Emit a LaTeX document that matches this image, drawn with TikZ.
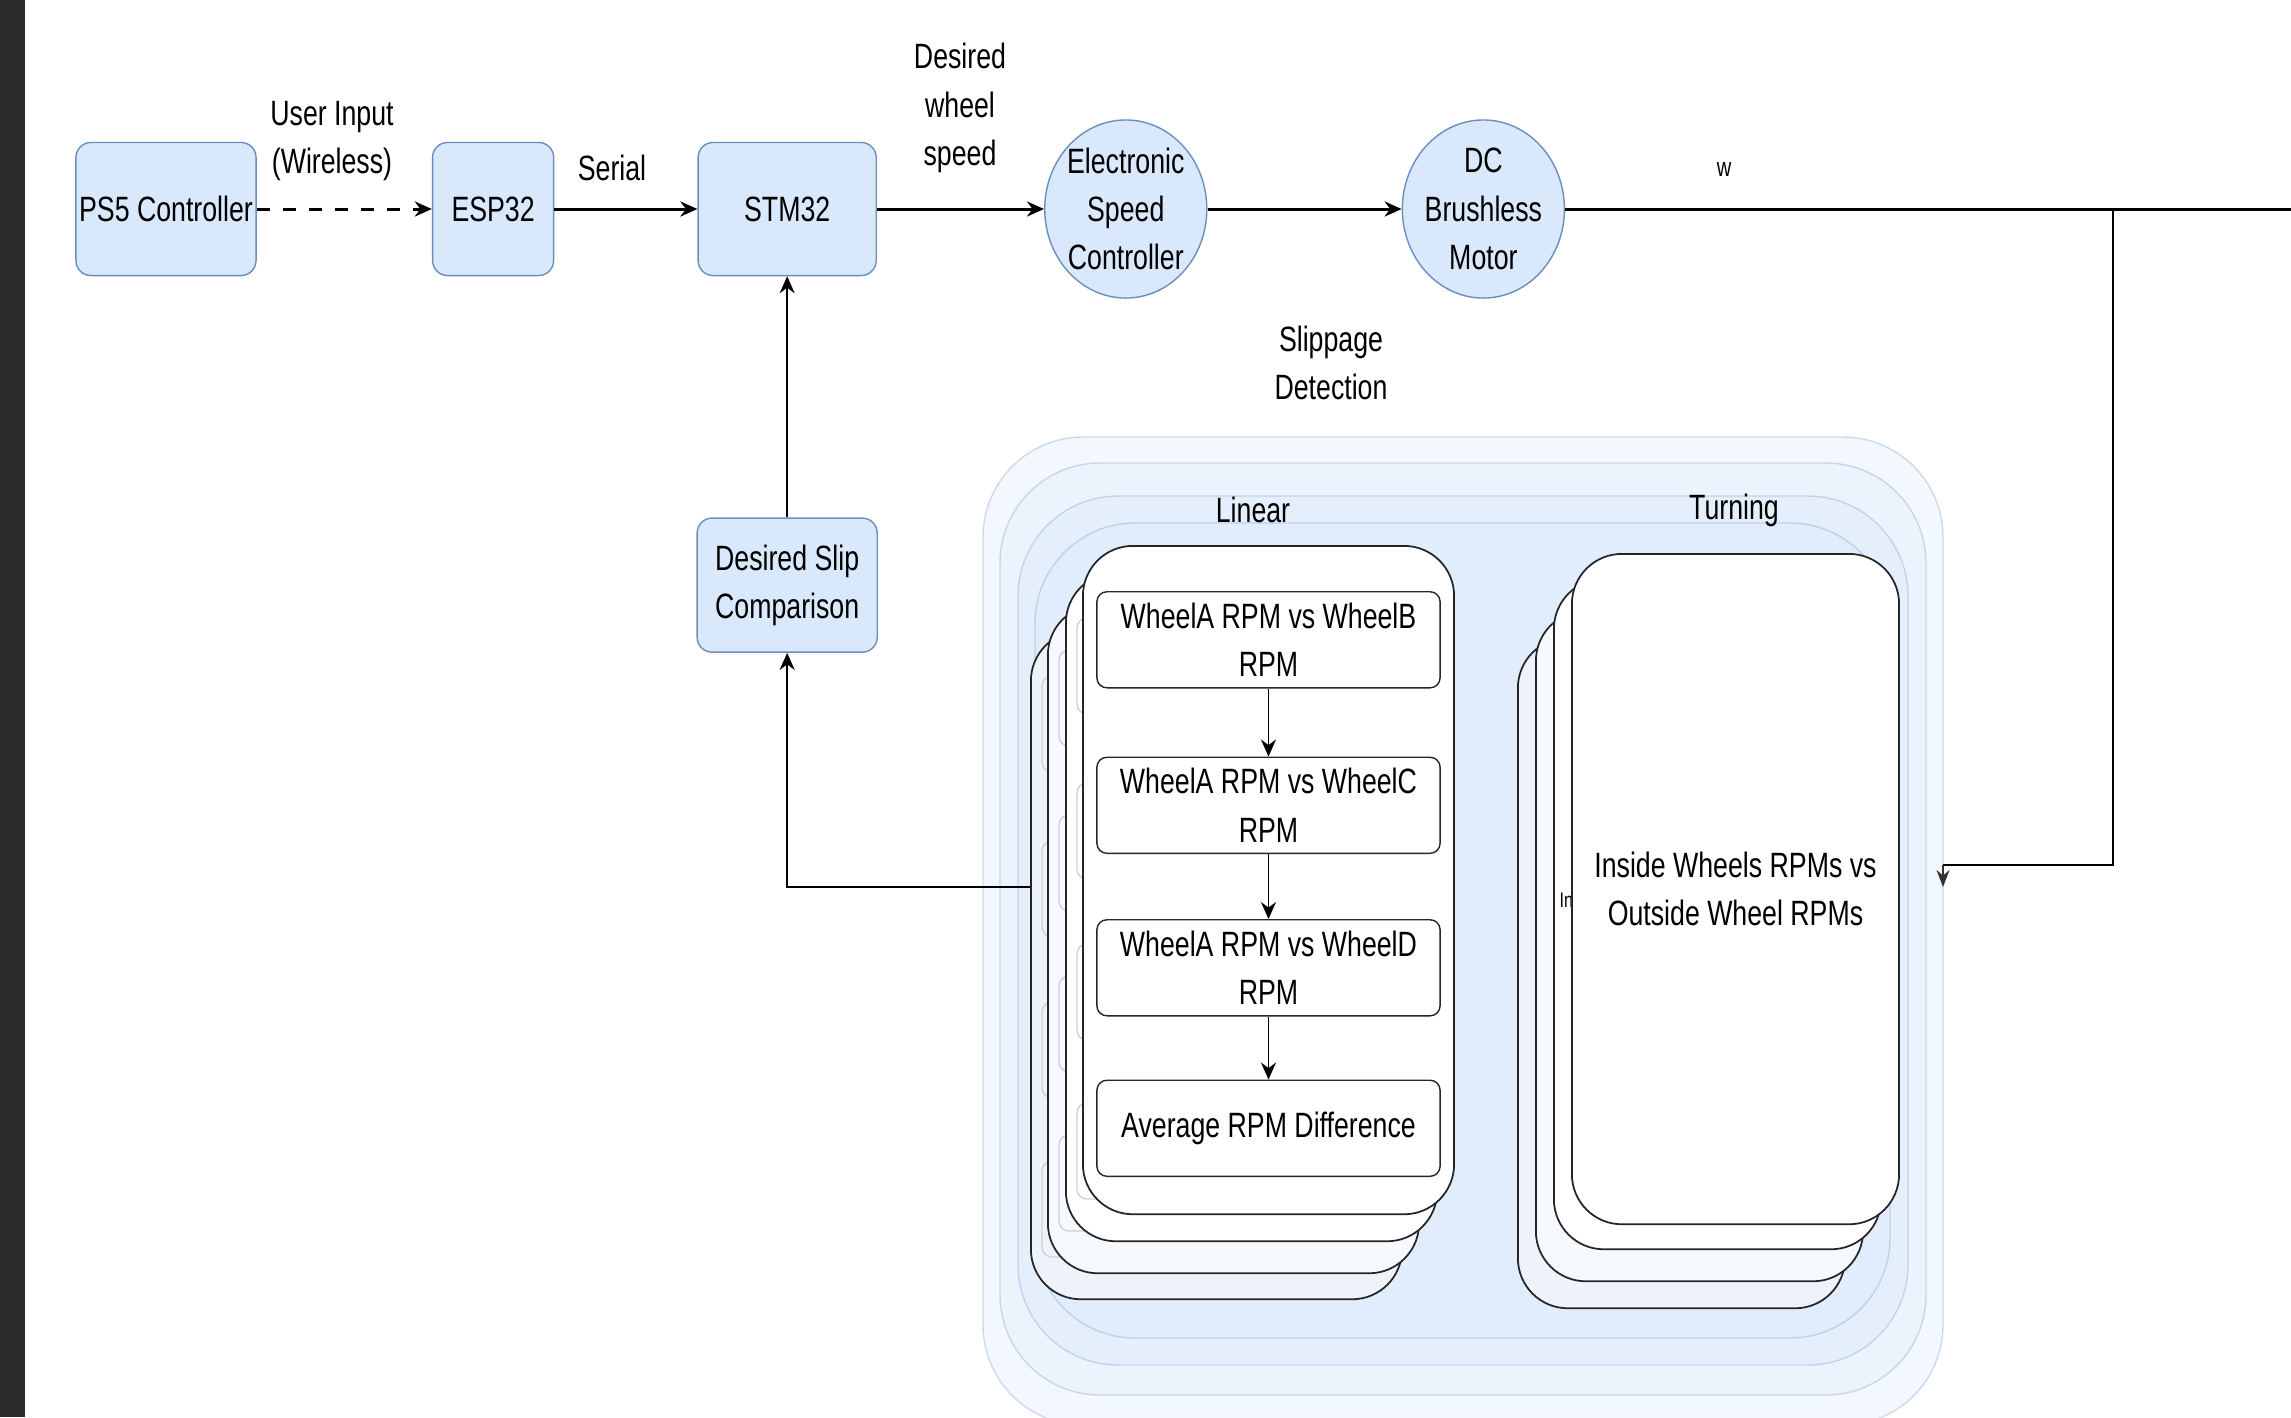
\documentclass[tikz,border=0pt]{standalone}
\usepackage{fontspec}
\setmainfont{Liberation Sans}[FakeStretch=0.76]
\usetikzlibrary{positioning, shapes.geometric, arrows.meta, calc}
\definecolor{slipblue}{HTML}{DAE8FC}
\definecolor{slipedge}{HTML}{6C8EBF}
\definecolor{darkstrip}{HTML}{2B2B2B}
\definecolor{backcardA}{HTML}{EDF2FB}
\definecolor{backcardB}{HTML}{F6F9FE}
\tikzset{
    block/.style={
        draw=slipedge, fill=slipblue,
        rounded corners=0.15cm,
        minimum height=1.33cm,
        inner sep=0pt,
        align=center,
        font=\fontsize{10}{13.7}\selectfont
    },
    roundblock/.style={
        ellipse, draw=slipedge, fill=slipblue,
        minimum width=1.62cm, minimum height=1.78cm,
        inner sep=-4pt,
        align=center,
        font=\fontsize{10}{13.7}\selectfont
    },
    lbl/.style={align=center, inner sep=0pt, font=\fontsize{10}{13.7}\selectfont},
    card/.style={draw=black!85, fill=white, rounded corners=0.5cm, inner sep=0pt, line width=0.5pt},
    rpmbox/.style={
        draw=black!85, fill=white, rounded corners=0.1cm,
        minimum width=3.43cm, minimum height=0.96cm,
        inner sep=0pt, align=center,
        font=\fontsize{10}{13.7}\selectfont
    },
    ghost/.style={draw=black!18, rounded corners=0.1cm, line width=0.4pt},
    slipzone/.style={draw=slipedge, draw opacity=0.3, fill=slipblue, fill opacity=0.3, rounded corners=1cm},
    flow/.style={-{Stealth[length=0.17cm, width=0.15cm]}, line width=0.85pt}
}

\begin{document}
\begin{tikzpicture}[x=0.01cm, y=-0.01cm]

    \useasboundingbox (0,0) rectangle (2291,1417);
    \clip (0,0) rectangle (2291,1417);
    \fill[white] (0,0) rectangle (2291,1417);
    \fill[darkstrip] (0,0) rectangle (25,1417);

    % Top row
    \node[block, minimum width=1.80cm] (ps5) at (166,209) {PS5 Controller};
    \node[block, minimum width=1.21cm, right=1.75cm of ps5] (esp) {ESP32};
    \node[block, minimum width=1.78cm, right=1.43cm of esp] (stm) {STM32};
    \node[roundblock, right=1.67cm of stm] (esc) {Electronic\\Speed\\Controller};
    \node[roundblock, right=1.94cm of esc] (dc) {DC\\Brushless\\Motor};

    % Feedback block
    \node[block, minimum width=1.80cm, minimum height=1.34cm, below=2.41cm of stm] (dsc) {Desired Slip\\Comparison};

    % Labels
    \node[lbl] (userIn) at (332,141) {User Input\\(Wireless)};
    \node[lbl] (serialTxt) at (612,168) {Serial};
    \node[lbl] (speedTxt) at (960,108) {Desired\\wheel\\speed};
    \node[lbl, font=\fontsize{7.5}{9}\selectfont] (wTxt) at (1724,170) {w};
    \node[lbl] (slipTxt) at (1331,363) {Slippage\\Detection};

    % Slippage detection group
    \foreach \l/\t/\r/\b in {983/437/1943/1425, 1000/463/1926/1395, 1018/496/1908/1365, 1035/523/1890/1338}
        \draw[slipzone] (\l,\t) rectangle (\r,\b);

    \node[lbl] (linTxt) at (1253,510) {Linear};
    \node[lbl] (turnTxt) at (1734,510) {Turning};

    % Linear stack
    \foreach \n/\x/\y/\c in {4/1030/630/backcardA, 3/1047/604/backcardB, 2/1065/572/white} {
        \node[card, fill=\c, anchor=north west, minimum width=3.71cm, minimum height=6.68cm] (lin\n) at (\x,\y) {};
        \foreach \o in {46,211,372,531}
            \draw[ghost] ($(lin\n.north west)+(12,\o)$) rectangle +(343,96);
    }
    \node[card, anchor=north west, minimum width=3.71cm, minimum height=6.68cm] (lin1) at (1082,545) {};

    \node[rpmbox, below=0.46cm of lin1.north] (cmpB) {WheelA RPM vs WheelB\\RPM};
    \node[rpmbox, below=0.68cm of cmpB] (cmpC) {WheelA RPM vs WheelC\\RPM};
    \node[rpmbox, below=0.65cm of cmpC] (cmpD) {WheelA RPM vs WheelD\\RPM};
    \node[rpmbox, below=0.63cm of cmpD] (avgDiff) {Average RPM Difference};

    % Turning stack
    \foreach \n/\x/\y/\c in {4/1517/637/backcardA, 3/1535/610/backcardB, 2/1553/578/white}
        \node[card, fill=\c, anchor=north west, minimum width=3.27cm, minimum height=6.70cm] (turn\n) at (\x,\y) {};
    \node[lbl, anchor=west, font=\fontsize{6}{7}\selectfont] (peek) at (1559,900) {In};
    \node[card, anchor=north west, minimum width=3.27cm, minimum height=6.70cm,
          align=center, font=\fontsize{10}{13.7}\selectfont] (turn1) at (1571,553) {Inside Wheels RPMs vs\\Outside Wheel RPMs};

    % Lines
    \coordinate (edge) at (2291,209);
    \coordinate (split) at (2113,209);
    \coordinate (drop) at (1943,865);
    \coordinate (dropTip) at (1943,887);
    \coordinate (tap) at (1030,887);

    \draw[flow, dash pattern=on 3.7pt off 3.7pt] (ps5) -- (esp);
    \draw[flow] (esp) -- (stm);
    \draw[flow] (stm) -- (esc);
    \draw[flow] (esc) -- (dc);
    \draw[line width=0.85pt] (dc) -- (edge);
    \draw[line width=0.6pt] (split) |- (drop);
    \draw[-{Stealth[length=0.17cm, width=0.13cm]}, draw=black!80, line width=0.5pt] (drop) -- (dropTip);
    \draw[flow, line width=0.6pt] (tap) -| (dsc.south);
    \draw[flow, line width=0.6pt] (dsc) -- (stm);

    \draw[flow, line width=0.5pt] (cmpB) -- (cmpC);
    \draw[flow, line width=0.5pt] (cmpC) -- (cmpD);
    \draw[flow, line width=0.5pt] (cmpD) -- (avgDiff);

\end{tikzpicture}
\end{document}
